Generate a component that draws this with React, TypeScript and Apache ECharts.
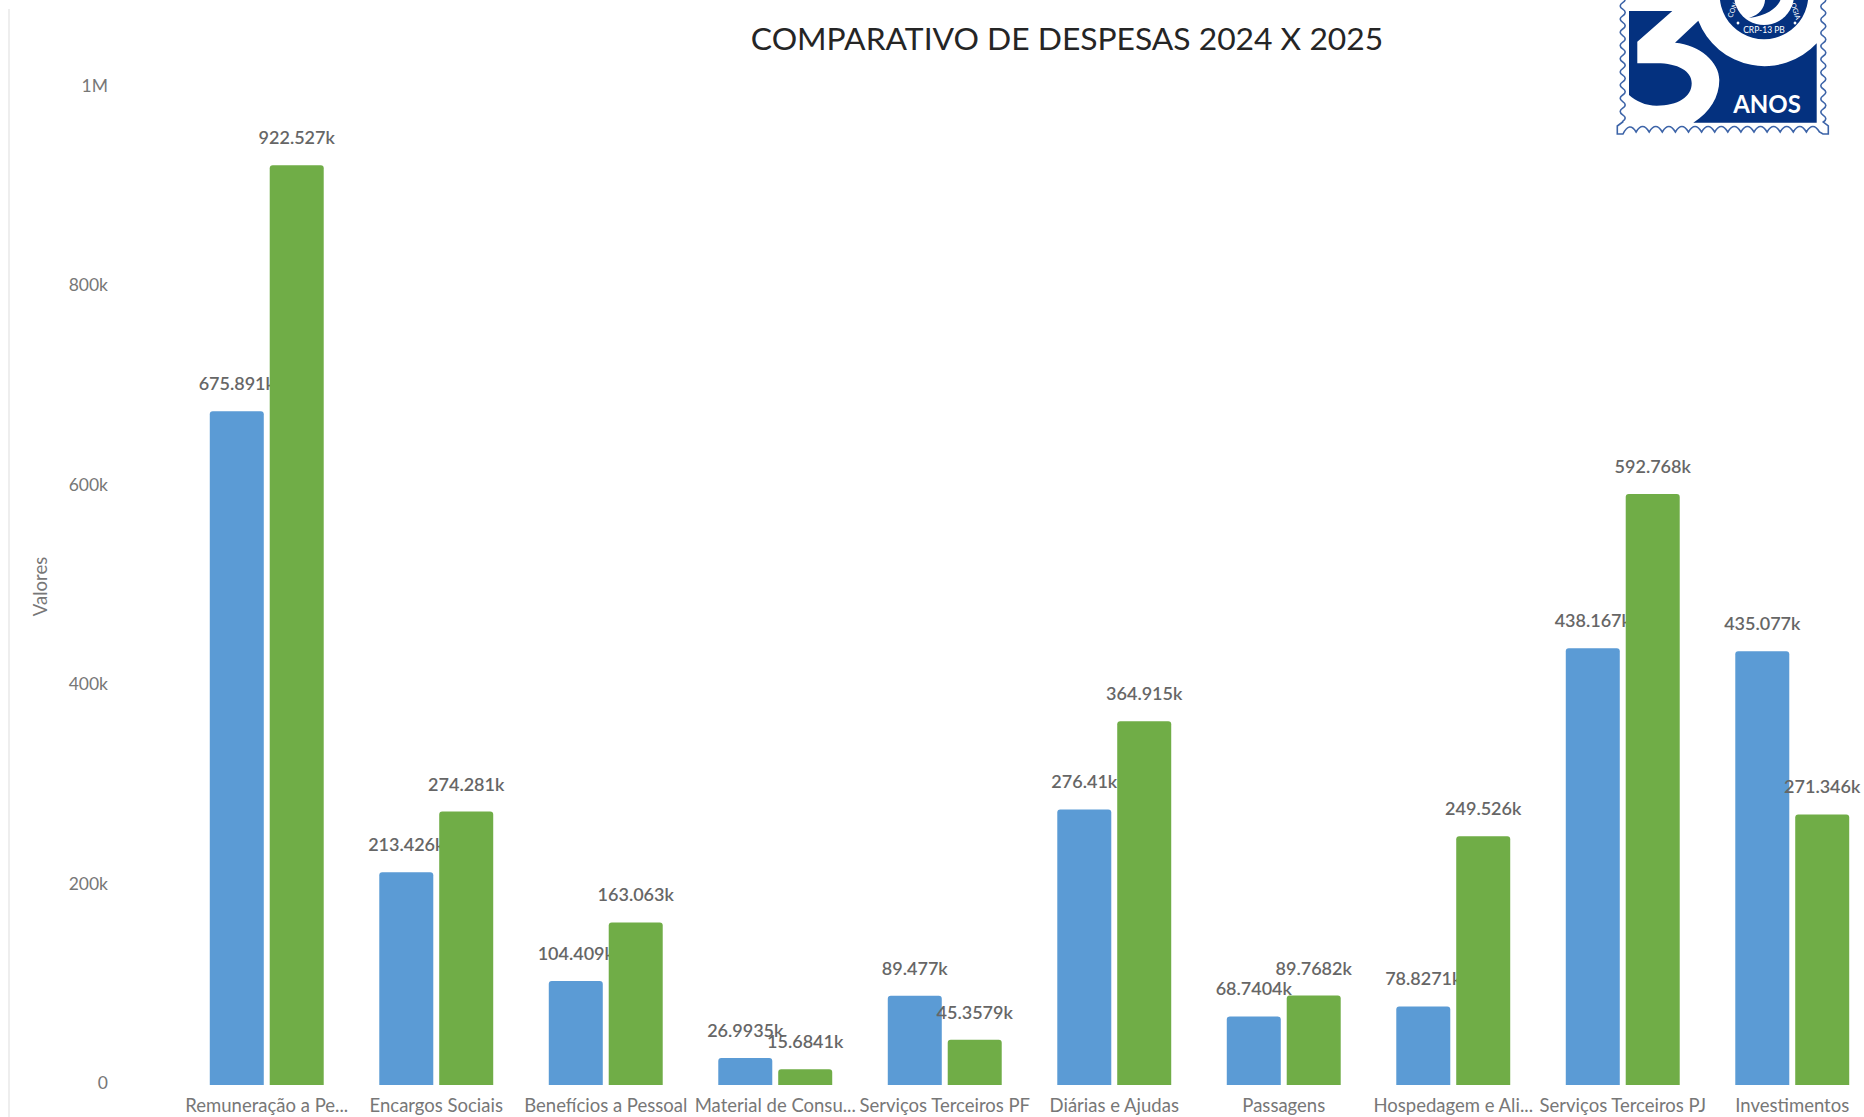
import React, { useEffect, useRef } from "react";
import * as echarts from "echarts";

const categories = [
  "Remuneração a Pe...",
  "Encargos Sociais",
  "Benefícios a Pessoal",
  "Material de Consu...",
  "Serviços Terceiros PF",
  "Diárias e Ajudas",
  "Passagens",
  "Hospedagem e Ali...",
  "Serviços Terceiros PJ",
  "Investimentos",
];
const values2024 = [675891, 213426, 104409, 26993.5, 89477, 276410, 68740.4, 78827.1, 438167, 435077];
const values2025 = [922527, 274281, 163063, 15684.1, 45357.9, 364915, 89768.2, 249526, 592768, 271346];
const yTicks: Record<number, string> = { 0: "0", 200000: "200k", 400000: "400k", 600000: "600k", 800000: "800k", 1000000: "1M" };

const FONT = "Lato";
const fmt = (v: number) => `${parseFloat((v / 1000).toPrecision(6))}k`;

function wave(): string {
  const p: string[] = [];
  const step = 6.6;
  let y = -4;
  let side = 1;
  p.push(`M 1622.7 ${y}`);
  while (y < 118) {
    p.push(`Q ${1622.7 + side * 5} ${y + step / 2} 1622.7 ${y + step}`);
    y += step;
    side = -side;
  }
  p.push(`L 1622.7 122 L 1617.3 126 L 1617.3 134 L 1623 134`);
  let x = 1623;
  while (x < 1810) {
    p.push(`Q ${x + 6.5} 121 ${x + 13.1} 132`);
    x += 13.1;
  }
  p.push(`L 1823 134 L 1828.3 134 L 1828.3 126 L 1823.3 122`);
  y = 122;
  side = 1;
  while (y > -4) {
    p.push(`Q ${1823.3 + side * 5} ${y - step / 2} 1823.3 ${y - step}`);
    y -= step;
    side = -side;
  }
  return p.join(" ");
}

const LOGO_LEFT =
  "M 1629 11 L 1672.3 11 L 1637.3 41.7 L 1637.3 63.3 L 1656.7 63.3 C 1678 63.3 1691.7 71 1691.7 83.3 C 1691.7 97 1678 105.7 1656.7 105.7 C 1645 105.7 1636 101 1629 95 Z";
const LOGO_RIGHT =
  "M 1698.3 20.7 A 71 71 0 0 0 1816.7 43.3 L 1816.7 122.7 L 1693.3 122.7 C 1710 112 1719.3 97 1719.3 80 C 1719.3 62 1700 45 1675 42.7 Z";
const LOGO_SWOOSH =
  "M 1749 18 C 1762 14 1766 5 1765 -5 L 1782 -5 C 1780 6 1770 15 1749 18 Z";

export default function App() {
  const ref = useRef<HTMLDivElement>(null);
  useEffect(() => {
    document.body.style.margin = "0";
    echarts.graphic.registerShape("logoLeft", echarts.graphic.extendPath(LOGO_LEFT, {}));
    echarts.graphic.registerShape("logoRight", echarts.graphic.extendPath(LOGO_RIGHT, {}));
    echarts.graphic.registerShape("logoSwoosh", echarts.graphic.extendPath(LOGO_SWOOSH, {}));
    echarts.graphic.registerShape("logoEdge", echarts.graphic.extendPath(wave(), {}));
    const chart = echarts.init(ref.current!, undefined, { renderer: "svg" });
    const label = {
      show: true,
      position: "top" as const,
      distance: 19,
      formatter: (p: any) => fmt(p.value),
      fontFamily: FONT,
      fontSize: 18,
      fontWeight: 600,
      color: "#666666",
    };
    const BLUE = "#04317f";
    chart.setOption({
      animation: false,
      backgroundColor: "#ffffff",
      title: {
        text: "COMPARATIVO DE DESPESAS 2024 X 2025",
        left: 1062,
        top: 17,
        textAlign: "center",
        textStyle: { fontFamily: FONT, fontSize: 31.8, fontWeight: 400, color: "#252525" },
      },
      grid: { left: 182, top: 88, width: 1695, height: 997, containLabel: false, outerBoundsMode: "none" },
      xAxis: {
        type: "category",
        data: categories,
        axisLine: { show: false },
        axisTick: { show: false },
        axisLabel: { interval: 0, margin: 10, fontFamily: FONT, fontSize: 18.5, color: "#777777" },
      },
      yAxis: {
        type: "value",
        min: 0,
        max: 1000000,
        interval: 200000,
        name: "Valores",
        nameLocation: "middle",
        nameRotate: 90,
        nameGap: 133,
        nameTextStyle: { fontFamily: FONT, fontSize: 18.5, color: "#777777" },
        splitLine: { show: false },
        axisLine: { show: false },
        axisTick: { show: false },
        axisLabel: {
          margin: 74,
          fontFamily: FONT,
          fontSize: 17.5,
          color: "#777777",
          verticalAlign: "bottom",
          lineHeight: 5,
          formatter: (v: number) => yTicks[v],
        },
      },
      series: [
        {
          name: "2024",
          type: "bar",
          z: 2,
          data: values2024,
          barWidth: 54,
          barGap: "11%",
          itemStyle: { color: "#5b9bd5", borderRadius: [3, 3, 0, 0] },
          label,
        },
        {
          name: "2025",
          type: "bar",
          z: 3,
          data: values2025,
          barWidth: 54,
          barGap: "11%",
          itemStyle: { color: "#70ad47", borderRadius: [3, 3, 0, 0] },
          label,
        },
      ],
      graphic: [
        { type: "rect", shape: { x: 8, y: 9, width: 2, height: 1108 }, style: { fill: "#eeeeee" }, silent: true },
        {
          type: "group",
          silent: true,
          children: [
            { type: "logoEdge", x: 0, y: 0, style: { fill: "none", stroke: "#3d64a8", lineWidth: 1.6 } },
            { type: "logoLeft", x: 0, y: 0, style: { fill: BLUE } },
            { type: "logoRight", x: 0, y: 0, style: { fill: BLUE } },
            { type: "circle", shape: { cx: 1764, cy: -5, r: 44.3 }, style: { fill: BLUE } },
            { type: "circle", shape: { cx: 1764, cy: -5, r: 30 }, style: { fill: "#ffffff" } },
            { type: "logoSwoosh", x: 0, y: 0, style: { fill: BLUE } },
            { type: "circle", shape: { cx: 1738, cy: 23, r: 1.4 }, style: { fill: "#ffffff" } },
            { type: "circle", shape: { cx: 1795, cy: 23, r: 1.4 }, style: { fill: "#ffffff" } },
            {
              type: "text",
              x: 1764,
              y: 30,
              style: { text: "CRP-13 PB", fill: "#ffffff", font: "8.5px Lato", textAlign: "center", textVerticalAlign: "middle" },
            },
            {
              type: "text",
              x: 1732,
              y: 10,
              rotation: 1.2,
              style: { text: "CON", fill: "#ffffff", font: "7px Lato", textAlign: "center", textVerticalAlign: "middle" },
            },
            {
              type: "text",
              x: 1796,
              y: 11,
              rotation: -1.25,
              style: { text: "OGIA", fill: "#ffffff", font: "7px Lato", textAlign: "center", textVerticalAlign: "middle" },
            },
            {
              type: "text",
              x: 1767,
              y: 103,
              style: { text: "ANOS", fill: "#ffffff", font: "bold 24px Lato", textAlign: "center", textVerticalAlign: "middle" },
            },
          ],
        },
      ],
    });
    return () => chart.dispose();
  }, []);
  return <div ref={ref} style={{ width: 1864, height: 1117 }} />;
}
